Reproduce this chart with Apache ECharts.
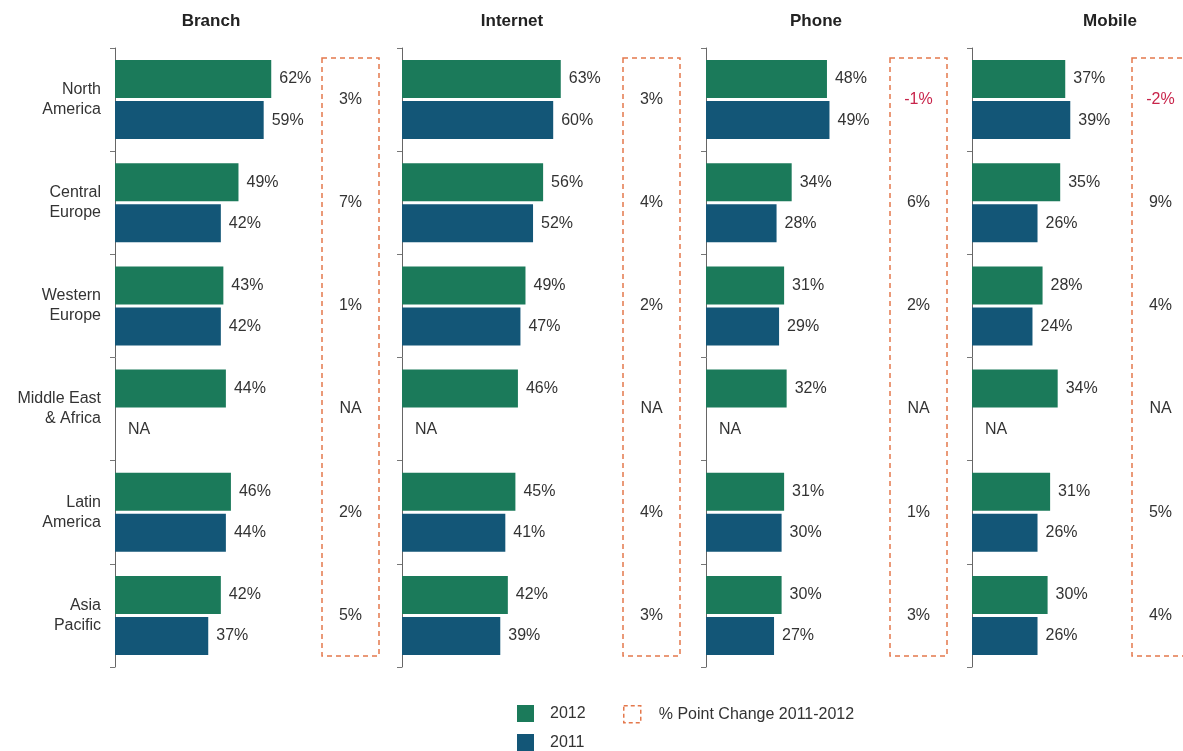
<!DOCTYPE html>
<html>
<head>
<meta charset="utf-8">
<script src="https://cdn.jsdelivr.net/npm/echarts@6/dist/echarts.min.js"></script>
<style>
html,body{margin:0;padding:0;background:#fff;}
#chart{width:1183px;height:751px;}
</style>
</head>
<body>
<div id="chart"></div>
<script>
// ---- data ----
const categories = ['North\nAmerica', 'Central\nEurope', 'Western\nEurope', 'Middle East\n& Africa', 'Latin\nAmerica', 'Asia\nPacific'];
const panels = ['Branch', 'Internet', 'Phone', 'Mobile'];
const branch2012 = [62, 49, 43, 44, 46, 42];
const branch2011 = [59, 42, 42, null, 44, 37];
const branchChange = [3, 7, 1, null, 2, 5];
const internet2012 = [63, 56, 49, 46, 45, 42];
const internet2011 = [60, 52, 47, null, 41, 39];
const internetChange = [3, 4, 2, null, 4, 3];
const phone2012 = [48, 34, 31, 32, 31, 30];
const phone2011 = [49, 28, 29, null, 30, 27];
const phoneChange = [-1, 6, 2, null, 1, 3];
const mobile2012 = [37, 35, 28, 34, 31, 30];
const mobile2011 = [39, 26, 24, null, 26, 26];
const mobileChange = [-2, 9, 4, null, 5, 4];
const legendNames = ['2012', '2011', '% Point Change 2011-2012'];

// ---- layout / style ----
const v2012 = [branch2012, internet2012, phone2012, mobile2012];
const v2011 = [branch2011, internet2011, phone2011, mobile2011];
const vChange = [branchChange, internetChange, phoneChange, mobileChange];
const axisLeft = [115, 402, 706, 972];
const titleX = [211, 512, 816, 1110];
const boxLeft = [322, 623, 890, 1132];
const boxWidth = 57;
const gridTop = 48, gridHeight = 619;
const boxTop = 58, boxBottom = 656;
const xMax = 80, gridWidth = 201.6;
const C2012 = '#1b7a5a', C2011 = '#135677', CBOX = '#e4784c';
const TXT = '#333333', NEG = '#c8254b';
const FONT = 'Liberation Sans';

const band = gridHeight / categories.length;
const grids = [], xAxes = [], yAxes = [], series = [], titles = [];

panels.forEach((p, k) => {
  titles.push({
    text: p, left: titleX[k], top: 13, textAlign: 'center', padding: 0,
    textStyle: {fontFamily: FONT, fontSize: 17, fontWeight: 'bold', color: '#222'}
  });
  // main grid
  grids.push({left: axisLeft[k], top: gridTop, width: gridWidth, height: gridHeight, outerBoundsMode: 'none'});
  const gi = grids.length - 1;
  xAxes.push({type: 'value', gridIndex: gi, min: 0, max: xMax, show: false});
  yAxes.push({
    type: 'category', gridIndex: gi, data: categories, inverse: true,
    axisLine: {show: true, lineStyle: {color: '#666', width: 1}},
    axisTick: {show: true, length: 5, lineStyle: {color: '#777'}},
    axisLabel: {show: k === 0, fontFamily: FONT, fontSize: 16, color: TXT, lineHeight: 20, margin: 14, align: 'right'},
    splitLine: {show: false}
  });
  const labelBase = {show: true, position: 'right', distance: 8, fontFamily: FONT, fontSize: 16, color: TXT, formatter: '{c}%'};
  series.push({
    name: '2012', type: 'bar', xAxisIndex: gi, yAxisIndex: gi,
    data: v2012[k], barWidth: 38, barGap: '8%',
    itemStyle: {color: C2012}, label: labelBase
  });
  series.push({
    name: '2011', type: 'bar', xAxisIndex: gi, yAxisIndex: gi,
    data: v2011[k].map(v => v === null ? {value: 0, label: {formatter: 'NA', distance: 13}} : v),
    barWidth: 38, barGap: '8%',
    itemStyle: {color: C2011}, label: labelBase
  });
  // change box grid
  grids.push({
    left: boxLeft[k], top: boxTop, width: boxWidth, height: boxBottom - boxTop, outerBoundsMode: 'none',
    show: true, backgroundColor: 'transparent', borderColor: CBOX, borderWidth: 1.5, borderType: [5, 4]
  });
  const bi = grids.length - 1;
  xAxes.push({type: 'value', gridIndex: bi, min: -1, max: 1, show: false});
  yAxes.push({
    type: 'value', gridIndex: bi, inverse: true, show: false,
    min: (boxTop - gridTop) / band, max: (boxBottom - gridTop) / band
  });
  series.push({
    name: legendNames[2], type: 'scatter', xAxisIndex: bi, yAxisIndex: bi,
    symbolSize: 0, itemStyle: {color: CBOX, opacity: 1},
    data: vChange[k].map((v, i) => ({
      value: [0, i + 0.5],
      label: {
        formatter: v === null ? 'NA' : v + '%',
        color: v !== null && v < 0 ? NEG : TXT
      }
    })),
    label: {show: true, position: 'top', distance: 0, verticalAlign: 'middle', align: 'center',
      fontFamily: FONT, fontSize: 16, opacity: 1, textBorderWidth: 0, textBorderColor: 'transparent'},
    silent: true
  });
});

const chart = echarts.init(document.getElementById('chart'), null, {renderer: 'canvas'});
chart.setOption({
  animation: false,
  title: titles,
  grid: grids,
  xAxis: xAxes,
  yAxis: yAxes,
  legend: [
    {
      data: [legendNames[0], legendNames[1]], orient: 'vertical', left: 517, top: 705, height: 80, padding: 0,
      itemWidth: 17, itemHeight: 17, itemGap: 12, icon: 'rect', selectedMode: false,
      textStyle: {fontFamily: FONT, fontSize: 16, color: TXT, padding: [0, 0, 0, 11]}
    },
    {
      data: [{name: legendNames[2], icon: 'rect', itemStyle: {color: 'transparent', borderColor: CBOX, borderWidth: 1.5, borderType: [4, 3], opacity: 1}}],
      left: 623, top: 705, padding: 0, itemWidth: 17, itemHeight: 17, selectedMode: false,
      textStyle: {fontFamily: FONT, fontSize: 16, color: TXT, padding: [0, 0, 0, 13]}
    }
  ],
  series: series
});
</script>
</body>
</html>
